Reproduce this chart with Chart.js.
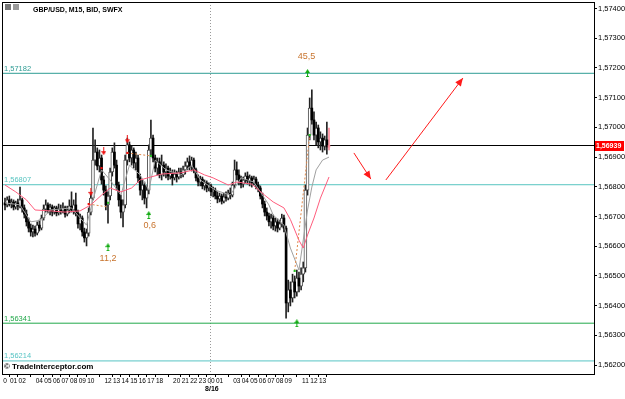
<!DOCTYPE html>
<html><head><meta charset="utf-8">
<script src="https://cdn.jsdelivr.net/npm/chart.js@4/dist/chart.umd.min.js"></script>
<style>html,body{margin:0;padding:0;background:#fff;overflow:hidden}canvas{display:block}</style>
</head><body>
<canvas id="c" width="625" height="399"></canvas>
<script>
// ---- data (GBP/USD M15 candles) ----
const openP = [1.56746,1.56739,1.56756,1.56742,1.56749,1.56732,1.56746,1.56735,1.56756,1.56729,1.56708,1.56682,1.56661,1.56648,1.56658,1.56644,1.56671,1.56661,1.56695,1.56725,1.56739,1.56722,1.56732,1.56715,1.56729,1.56712,1.56725,1.56719,1.56729,1.56708,1.56722,1.56735,1.56722,1.56739,1.56712,1.56675,1.56695,1.56648,1.56628,1.56644,1.56715,1.56762,1.56890,1.56917,1.56870,1.56897,1.56823,1.56789,1.56739,1.56769,1.56850,1.56917,1.56873,1.56806,1.56756,1.56715,1.56739,1.56890,1.56941,1.56897,1.56924,1.56880,1.56897,1.56830,1.56789,1.56806,1.56762,1.56789,1.56924,1.56964,1.56897,1.56863,1.56884,1.56840,1.56873,1.56850,1.56863,1.56836,1.56847,1.56830,1.56843,1.56833,1.56850,1.56840,1.56857,1.56870,1.56884,1.56867,1.56890,1.56857,1.56830,1.56816,1.56826,1.56803,1.56813,1.56796,1.56803,1.56783,1.56789,1.56769,1.56759,1.56769,1.56752,1.56766,1.56762,1.56779,1.56772,1.56806,1.56857,1.56840,1.56823,1.56809,1.56823,1.56836,1.56820,1.56830,1.56813,1.56826,1.56806,1.56796,1.56769,1.56742,1.56715,1.56702,1.56682,1.56695,1.56668,1.56682,1.56661,1.56675,1.56695,1.56661,1.56409,1.56453,1.56426,1.56480,1.56446,1.56493,1.56466,1.56506,1.56527,1.56789,1.56974,1.57065,1.57025,1.56974,1.56998,1.56951,1.56964,1.56937,1.56958,1.56934];
const highP = [1.56762,1.56766,1.56769,1.56759,1.56756,1.56752,1.56759,1.56799,1.56762,1.56739,1.56722,1.56695,1.56675,1.56671,1.56668,1.56682,1.56688,1.56705,1.56739,1.56756,1.56746,1.56742,1.56739,1.56735,1.56735,1.56742,1.56739,1.56746,1.56735,1.56735,1.56756,1.56783,1.56756,1.56779,1.56722,1.56708,1.56702,1.56661,1.56658,1.56729,1.56776,1.56998,1.56958,1.56931,1.56924,1.56907,1.56836,1.56803,1.56783,1.56863,1.56931,1.56948,1.56890,1.56816,1.56772,1.56756,1.56907,1.56964,1.56951,1.56937,1.56931,1.56917,1.56907,1.56843,1.56823,1.56816,1.56803,1.56941,1.57025,1.56974,1.56907,1.56897,1.56897,1.56907,1.56884,1.56877,1.56870,1.56863,1.56857,1.56857,1.56853,1.56863,1.56863,1.56870,1.56884,1.56897,1.56904,1.56900,1.56897,1.56863,1.56840,1.56836,1.56833,1.56823,1.56820,1.56813,1.56809,1.56799,1.56796,1.56783,1.56779,1.56776,1.56779,1.56783,1.56789,1.56796,1.56816,1.56890,1.56884,1.56857,1.56836,1.56833,1.56847,1.56850,1.56840,1.56836,1.56836,1.56833,1.56816,1.56803,1.56779,1.56752,1.56729,1.56712,1.56708,1.56705,1.56695,1.56692,1.56688,1.56708,1.56705,1.56668,1.56486,1.56480,1.56506,1.56500,1.56520,1.56513,1.56527,1.56547,1.56806,1.56998,1.57099,1.57126,1.57052,1.57018,1.57008,1.56985,1.56978,1.56971,1.57018,1.56998];
const lowP = [1.56722,1.56732,1.56735,1.56729,1.56722,1.56725,1.56722,1.56729,1.56715,1.56695,1.56668,1.56648,1.56634,1.56631,1.56634,1.56638,1.56651,1.56655,1.56688,1.56715,1.56712,1.56705,1.56702,1.56708,1.56702,1.56705,1.56708,1.56712,1.56698,1.56702,1.56712,1.56715,1.56708,1.56702,1.56661,1.56655,1.56634,1.56614,1.56601,1.56634,1.56705,1.56756,1.56873,1.56857,1.56850,1.56809,1.56772,1.56722,1.56678,1.56756,1.56836,1.56863,1.56789,1.56735,1.56695,1.56665,1.56729,1.56873,1.56884,1.56873,1.56863,1.56857,1.56816,1.56772,1.56756,1.56742,1.56729,1.56776,1.56907,1.56884,1.56850,1.56840,1.56830,1.56823,1.56836,1.56830,1.56823,1.56826,1.56806,1.56823,1.56816,1.56826,1.56830,1.56833,1.56843,1.56857,1.56857,1.56853,1.56847,1.56820,1.56803,1.56803,1.56793,1.56789,1.56783,1.56786,1.56769,1.56766,1.56759,1.56746,1.56749,1.56742,1.56746,1.56752,1.56756,1.56759,1.56766,1.56796,1.56823,1.56806,1.56796,1.56799,1.56813,1.56809,1.56803,1.56799,1.56806,1.56793,1.56783,1.56759,1.56729,1.56702,1.56688,1.56668,1.56661,1.56655,1.56651,1.56648,1.56655,1.56665,1.56648,1.56358,1.56379,1.56399,1.56412,1.56426,1.56432,1.56446,1.56453,1.56480,1.56513,1.56772,1.56958,1.57011,1.56958,1.56941,1.56931,1.56924,1.56917,1.56924,1.56910,1.56924];
const closeP = [1.56739,1.56756,1.56742,1.56749,1.56732,1.56746,1.56735,1.56756,1.56729,1.56708,1.56682,1.56661,1.56648,1.56658,1.56644,1.56671,1.56661,1.56695,1.56725,1.56739,1.56722,1.56732,1.56715,1.56729,1.56712,1.56725,1.56719,1.56729,1.56708,1.56722,1.56735,1.56722,1.56739,1.56712,1.56675,1.56695,1.56648,1.56628,1.56644,1.56715,1.56762,1.56890,1.56917,1.56870,1.56897,1.56823,1.56789,1.56739,1.56769,1.56850,1.56917,1.56873,1.56806,1.56756,1.56715,1.56739,1.56890,1.56941,1.56897,1.56924,1.56880,1.56897,1.56830,1.56789,1.56806,1.56762,1.56789,1.56924,1.56964,1.56897,1.56863,1.56884,1.56840,1.56873,1.56850,1.56863,1.56836,1.56847,1.56830,1.56843,1.56833,1.56850,1.56840,1.56857,1.56870,1.56884,1.56867,1.56890,1.56857,1.56830,1.56816,1.56826,1.56803,1.56813,1.56796,1.56803,1.56783,1.56789,1.56769,1.56759,1.56769,1.56752,1.56766,1.56762,1.56779,1.56772,1.56806,1.56857,1.56840,1.56823,1.56809,1.56823,1.56836,1.56820,1.56830,1.56813,1.56826,1.56806,1.56796,1.56769,1.56742,1.56715,1.56702,1.56682,1.56695,1.56668,1.56682,1.56661,1.56675,1.56695,1.56661,1.56409,1.56453,1.56426,1.56480,1.56446,1.56493,1.56466,1.56506,1.56527,1.56789,1.56974,1.57065,1.57025,1.56974,1.56998,1.56951,1.56964,1.56937,1.56958,1.56934,1.56939];

// moving averages (candle index, price)
const slowMaIdx = [0,5,10,14,21,28,35,40,45,49,54,59,63,68,73,82,88,93,97,104,108,115,121,125,130,133,137,139,141,144,147,151];
const slowMaVal = [1.56806,1.56783,1.56756,1.56722,1.56719,1.56715,1.56719,1.56739,1.56772,1.56796,1.56783,1.56796,1.56823,1.56833,1.56843,1.56847,1.56857,1.56840,1.56830,1.56806,1.56816,1.56809,1.56772,1.56749,1.56729,1.56690,1.56620,1.56594,1.56638,1.56695,1.56762,1.56833];
const fastMaIdx = [0,7,12,17,21,31,38,41,45,49,54,58,63,67,70,75,82,87,91,98,105,110,116,123,125,130,133,137,139,141,143,145,148,151];
const fastMaVal = [1.56746,1.56739,1.56682,1.56688,1.56722,1.56729,1.56671,1.56756,1.56857,1.56823,1.56772,1.56873,1.56840,1.56789,1.56890,1.56857,1.56840,1.56873,1.56823,1.56789,1.56772,1.56830,1.56816,1.56739,1.56705,1.56671,1.56594,1.56520,1.56621,1.56722,1.56799,1.56857,1.56890,1.56900];

// horizontal levels
const levelValues = [1.57182, 1.56807, 1.56341, 1.56214];
const levelLabels = ['1,57182', '1,56807', '1,56341', '1,56214'];
const levelColors = ['#2e9c94', '#57c4c0', '#22a84a', '#57c4c4'];
const currentPrice = 1.56939;
const currentLabel = '1,56939';

// axes
const yTicks = [1.562,1.563,1.564,1.565,1.566,1.567,1.568,1.569,1.570,1.571,1.572,1.573,1.574];
const hourTickIdx = [0,4,8,16,20,24,28,32,36,40,48,52,56,60,64,68,72,80,84,88,92,96,100,108,112,116,120,124,128,132,140,144,148];
const hourTickLabels = ['0','01','02','04','05','06','07','08','09','10','12','13','14','15','16','17','18','20','21','22','23','00','01','03','04','05','06','07','08','09','11','12','13'];
const dayBreakIdx = 95.5;
const dayLabel = '8/16';

// signals
const sellArrowIdx = [40, 46, 57];
const sellArrowVal = [1.56783, 1.56920, 1.56960];
const sellDotIdx = [39, 45, 57];
const sellDotVal = [1.56742, 1.56863, 1.56914];
const buyArrowIdx = [48, 67, 136, 141];
const buyArrowVal = [1.56597, 1.56705, 1.56341, 1.57183];
const buyDotIdx = [48, 68, 135, 142];
const buyDotVal = [1.56746, 1.56904, 1.56517, 1.56974];
const zigFromIdx = [39, 57, 135];
const zigFromVal = [1.56742, 1.56914, 1.56517];
const zigToIdx = [48, 68, 142];
const zigToVal = [1.56732, 1.56904, 1.56974];
const signalTextIdx = [48, 67.5, 140.5];
const signalTextVal = [1.56560, 1.56671, 1.57237];
const signalTexts = ['11,2', '0,6', '45,5'];

// hand-drawn arrows (index, price)
const drawnArrowA = {idx: [162.6, 170.5], val: [1.56914, 1.56826]};
const drawnArrowB = {idx: [177.5, 213.4], val: [1.56823, 1.57166]};

const title = 'GBP/USD, M15, BID, SWFX';
const watermark = '\u00A9 TradeInterceptor.com';

// ---- build ----
const X_MIN = -1.4, X_MAX = 274.5, Y_MIN = 1.56170, Y_MAX = 1.57422;
const FONT = '"Liberation Sans", Arial, sans-serif';
Chart.defaults.font.family = FONT;

const lastI = openP.length - 1;
const wickData = openP.map((o, i) => ({x: i, y: [lowP[i], highP[i]]}));
const bullData = [], bearData = [], lastData = [];
openP.forEach((o, i) => {
  const d = {x: i, y: [o, closeP[i]]};
  if (i === lastI) lastData.push(d);
  else if (closeP[i] >= o) bullData.push(d);
  else bearData.push(d);
});

function arrowImg(color, down) {
  const c = document.createElement('canvas');
  c.width = 5; c.height = 8;
  const g = c.getContext('2d');
  g.fillStyle = color;
  if (down) {
    g.fillRect(2, 0, 1, 4);
    g.beginPath(); g.moveTo(0, 4); g.lineTo(5, 4); g.lineTo(2.5, 8); g.closePath(); g.fill();
  } else {
    g.beginPath(); g.moveTo(2.5, 0); g.lineTo(5, 4); g.lineTo(0, 4); g.closePath(); g.fill();
    g.fillRect(2, 4, 1, 3); g.fillRect(1, 7, 3, 1);
  }
  return c;
}
const redArrow = arrowImg('#ee1111', true);
const greenArrow = arrowImg('#11aa11', false);
const pts = (ix, vs) => ix.map((x, k) => ({x, y: vs[k]}));

const datasets = [];
levelValues.forEach((v, k) => datasets.push({
  type: 'line', data: [{x: X_MIN, y: v}, {x: X_MAX, y: v}], borderColor: levelColors[k],
  borderWidth: 1, pointRadius: 0, order: 20
}));
datasets.push({type: 'line', data: [{x: X_MIN, y: currentPrice}, {x: X_MAX, y: currentPrice}],
  borderColor: '#000', borderWidth: 1, pointRadius: 0, order: 19});
datasets.push({type: 'bar', data: wickData, barThickness: 1, grouped: false,
  backgroundColor: wickData.map((d, i) => i === lastI ? '#ff8a9a' : '#222'), order: 15});
datasets.push({type: 'bar', data: bullData, barThickness: 3, grouped: false,
  backgroundColor: '#fff', borderColor: '#555', borderWidth: 1, borderSkipped: false, minBarLength: 1, order: 14});
datasets.push({type: 'bar', data: bearData, barThickness: 2, grouped: false,
  backgroundColor: '#000', minBarLength: 1, order: 13});
datasets.push({type: 'bar', data: lastData, barThickness: 2, grouped: false,
  backgroundColor: '#ff8a9a', minBarLength: 1, order: 12});
datasets.push({type: 'line', data: pts(fastMaIdx, fastMaVal), borderColor: '#a0a0a0', borderWidth: 1,
  pointRadius: 0, order: 10});
datasets.push({type: 'line', data: pts(slowMaIdx, slowMaVal), borderColor: '#ff5d7d', borderWidth: 1,
  pointRadius: 0, order: 9});
zigFromIdx.forEach((x, k) => datasets.push({type: 'line',
  data: [{x, y: zigFromVal[k]}, {x: zigToIdx[k], y: zigToVal[k]}],
  borderColor: '#e0884a', borderWidth: 1, borderDash: [2, 2], pointRadius: 0, order: 8}));
datasets.push({type: 'line', data: pts(sellDotIdx, sellDotVal), showLine: false,
  pointStyle: 'rect', pointRadius: 1.5, pointBackgroundColor: '#ee1111', pointBorderWidth: 0, order: 6});
datasets.push({type: 'line', data: pts(buyDotIdx, buyDotVal), showLine: false,
  pointStyle: 'rect', pointRadius: 1.5, pointBackgroundColor: '#22bb22', pointBorderWidth: 0, order: 6});
datasets.push({type: 'line', data: pts(sellArrowIdx, sellArrowVal), showLine: false,
  pointStyle: redArrow, order: 5});
datasets.push({type: 'line', data: pts(buyArrowIdx, buyArrowVal), showLine: false,
  pointStyle: greenArrow, order: 5});
const arrowDsStart = datasets.length;
[drawnArrowA, drawnArrowB].forEach(a => datasets.push({type: 'line', data: pts(a.idx, a.val),
  borderColor: '#ff1a1a', borderWidth: 1, pointRadius: 0, order: 1}));

const overlay = {
  id: 'overlay',
  beforeDraw(chart) {
    const c = chart.ctx; c.save(); c.fillStyle = '#fff'; c.fillRect(0, 0, chart.width, chart.height); c.restore();
  },
  beforeDatasetsDraw(chart) {
    const c = chart.ctx, a = chart.chartArea, xs = chart.scales.x;
    const px = Math.round(xs.getPixelForValue(dayBreakIdx)) + 0.5;
    c.save(); c.strokeStyle = '#9a9a9a'; c.setLineDash([1, 2]); c.lineWidth = 1;
    c.beginPath(); c.moveTo(px, a.top); c.lineTo(px, a.bottom + 10); c.stroke(); c.restore();
  },
  afterDatasetsDraw(chart) {
    const c = chart.ctx, a = chart.chartArea, xs = chart.scales.x, ys = chart.scales.y;
    c.save();
    for (let k = arrowDsStart; k < arrowDsStart + 2; k++) {
      const m = chart.getDatasetMeta(k).data;
      const p0 = m[0], p1 = m[1];
      const ang = Math.atan2(p1.y - p0.y, p1.x - p0.x);
      c.fillStyle = '#ff1a1a';
      c.beginPath();
      c.moveTo(p1.x, p1.y);
      c.lineTo(p1.x - 8 * Math.cos(ang) + 3.5 * Math.sin(ang), p1.y - 8 * Math.sin(ang) - 3.5 * Math.cos(ang));
      c.lineTo(p1.x - 8 * Math.cos(ang) - 3.5 * Math.sin(ang), p1.y - 8 * Math.sin(ang) + 3.5 * Math.cos(ang));
      c.closePath(); c.fill();
    }
    c.font = '9px ' + FONT; c.fillStyle = '#c8742e'; c.textAlign = 'center'; c.textBaseline = 'middle';
    signalTexts.forEach((t, k) => c.fillText(t, xs.getPixelForValue(signalTextIdx[k]), ys.getPixelForValue(signalTextVal[k])));
    c.font = '7.5px ' + FONT; c.textAlign = 'left'; c.textBaseline = 'bottom';
    levelValues.forEach((v, k) => { c.fillStyle = levelColors[k]; c.fillText(levelLabels[k], a.left + 2, ys.getPixelForValue(v) - 1); });
    c.restore();
  },
  afterDraw(chart) {
    const c = chart.ctx, a = chart.chartArea, xs = chart.scales.x, ys = chart.scales.y;
    c.save();
    c.strokeStyle = '#000'; c.lineWidth = 1;
    c.strokeRect(Math.round(a.left) + 0.5, Math.round(a.top) + 0.5, Math.round(a.right - a.left), Math.round(a.bottom - a.top));
    c.fillStyle = '#777'; c.fillRect(5, 4, 6, 6); c.fillStyle = '#999'; c.fillRect(13, 4, 6, 6);
    c.fillStyle = '#000'; c.font = 'bold 7px ' + FONT; c.textAlign = 'left'; c.textBaseline = 'middle';
    c.fillText(title, 33, 10);
    c.font = 'bold 8px ' + FONT; c.fillText(watermark, a.left + 2, 367);
    c.textAlign = 'center'; c.font = 'bold 7px ' + FONT;
    c.fillText(dayLabel, xs.getPixelForValue(dayBreakIdx) + 2, 389);
    const py = ys.getPixelForValue(currentPrice);
    c.fillStyle = '#ff0000'; c.fillRect(a.right + 1, Math.round(py) - 5, 29, 10);
    c.fillStyle = '#fff'; c.font = 'bold 7px ' + FONT; c.textAlign = 'left';
    c.fillText(currentLabel, a.right + 2, Math.round(py) + 0.5);
    c.restore();
  }
};

const noPad = () => ({left: 0, top: 0, right: 0, bottom: 0});

new Chart(document.getElementById('c'), {
  type: 'bar',
  data: {datasets},
  options: {
    responsive: false, animation: false, devicePixelRatio: 1,
    layout: {autoPadding: false, padding: {left: 2, top: 2, right: 0, bottom: 0}},
    plugins: {legend: {display: false}, tooltip: {enabled: false}},
    scales: {
      x: {
        type: 'linear', min: X_MIN, max: X_MAX, offset: false,
        afterBuildTicks: s => { s.ticks = hourTickIdx.map(v => ({value: v})); },
        afterFit: s => { s.height = 25; s.paddingLeft = 0; s.paddingRight = 0; s.getPadding = noPad; },
        ticks: {autoSkip: false, maxRotation: 0, minRotation: 0, padding: 0, color: '#000',
          font: {size: 6.5, family: FONT}, callback: (v, i) => hourTickLabels[i]},
        grid: {drawOnChartArea: false, drawTicks: true, tickLength: 3, color: '#000'},
        border: {display: true, color: '#000'}
      },
      y: {
        type: 'linear', position: 'right', min: Y_MIN, max: Y_MAX,
        afterBuildTicks: s => { s.ticks = yTicks.map(v => ({value: v})); },
        afterFit: s => { s.width = 31; s.paddingTop = 0; s.paddingBottom = 0; s.getPadding = noPad; },
        ticks: {padding: 1, color: '#000', font: {size: 7.5, family: FONT},
          callback: v => v.toFixed(5).replace('.', ',')},
        grid: {drawOnChartArea: false, drawTicks: true, tickLength: 3, color: '#000'},
        border: {display: true, color: '#000'}
      }
    }
  },
  plugins: [overlay]
});
</script>
</body></html>
